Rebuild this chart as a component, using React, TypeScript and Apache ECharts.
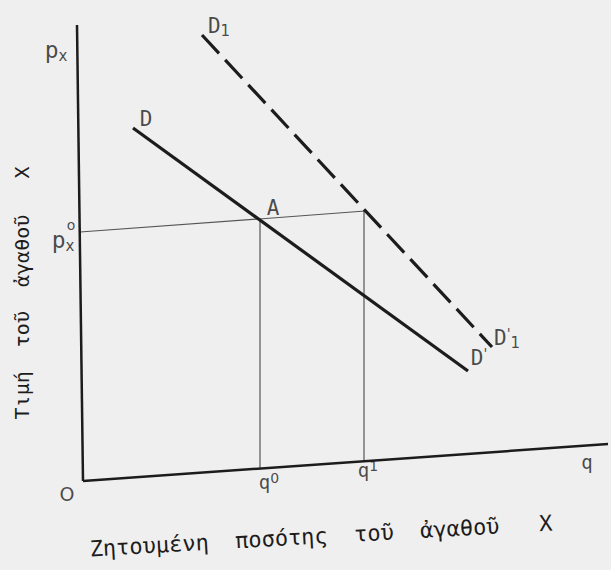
import React, { useEffect, useRef } from "react";
import * as echarts from "echarts";

// Drawing units: origin at O, quantity to the right, price upward.
const xAxisLine: number[][] = [[0, 0], [525, 37]];
const yAxisLine: number[][] = [[0, 0], [-6, 456]];
const demandD: number[][] = [[50, 353], [385, 110]];
const demandD1: number[][] = [[119, 446], [409, 134]];
const priceGuide: number[][] = [[-3, 249], [176, 262], [282, 270]];
const q0Guide: number[][] = [[177, 13], [177, 261]];
const q1Guide: number[][] = [[281, 20], [281, 270]];

// Point labels (rich text) and their anchors.
const labelTexts: string[] = [
  "{b|D}{sub|1}",
  "{b|D}",
  "{b|A}",
  "{b|D}{sup|'}",
  "{b|D}{sup|'}{sub|1}",
  "{p|p}{sub|x}",
  "{p|p}{sub|x}",
  "{sup|o}",
  "{o|O}",
  "{q|q}{sup|0}",
  "{q|q}{sup|1}",
  "{q|q}",
];
const labelAnchors: number[][] = [
  [136, 455],
  [63, 362],
  [190, 273],
  [396, 123],
  [424, 143],
  [-27, 431],
  [-20, 241],
  [-12, 256],
  [-16, -13],
  [186, -1],
  [285, 11],
  [504, 19],
];

const yTitle = "Τιμή  τοῦ  ἀγαθοῦ   X";
const xTitle = "Ζητουμένη  ποσότης  τοῦ  ἀγαθοῦ   X";

const INK = "#1c1c1c";
const FONT = "DejaVu Sans Mono";
const SMALL_FONT = "DejaVu Sans";

function lineSeries(data: number[][], width: number, color: string, type: any = "solid") {
  return {
    type: "line",
    data,
    symbol: "none",
    silent: true,
    lineStyle: { width, color, type, cap: "butt" },
  };
}

export default function App() {
  const ref = useRef<HTMLDivElement>(null);

  useEffect(() => {
    if (!ref.current) return;
    const chart = echarts.init(ref.current, null, { renderer: "svg" });
    chart.setOption({
      animation: false,
      backgroundColor: "#efefef",
      grid: { left: 0, right: 0, top: 0, bottom: 0 },
      xAxis: { type: "value", min: -83, max: 528, show: false },
      yAxis: { type: "value", min: -89, max: 481, show: false },
      series: [
        lineSeries(priceGuide, 1.2, "#555"),
        lineSeries(q0Guide, 1.2, "#555"),
        lineSeries(q1Guide, 1.2, "#555"),
        lineSeries(xAxisLine, 2.5, INK),
        lineSeries(yAxisLine, 2.5, INK),
        lineSeries(demandD, 3.2, INK),
        lineSeries(demandD1, 3.2, INK, [25, 9]),
        {
          type: "scatter",
          silent: true,
          symbolSize: 1,
          itemStyle: { color: "rgba(0,0,0,0)" },
          data: labelAnchors.map((p, i) => ({ value: p, name: labelTexts[i] })),
          label: {
            show: true,
            position: "inside",
            formatter: (p: any) => p.name,
            color: INK,
            fontFamily: FONT,
            rich: {
              b: { fontSize: 21, fontFamily: FONT, color: INK, lineHeight: 24 },
              o: { fontSize: 19, fontFamily: SMALL_FONT, color: INK, lineHeight: 24 },
              p: { fontSize: 23, fontFamily: FONT, color: INK, lineHeight: 26 },
              q: { fontSize: 19, fontFamily: FONT, color: INK, lineHeight: 22 },
              sub: { fontSize: 15, fontFamily: SMALL_FONT, color: INK, verticalAlign: "bottom" },
              sup: { fontSize: 14, fontFamily: SMALL_FONT, color: INK, verticalAlign: "top" },
            },
          },
        },
      ],
      graphic: [
        {
          type: "text",
          x: 22,
          y: 293,
          rotation: Math.PI / 2,
          style: {
            text: yTitle,
            font: `20px "${FONT}"`,
            fill: INK,
            align: "center",
            verticalAlign: "middle",
          },
        },
        {
          type: "text",
          x: 321,
          y: 536,
          rotation: 0.056,
          style: {
            text: xTitle,
            font: `22px "${FONT}"`,
            fill: INK,
            align: "center",
            verticalAlign: "middle",
          },
        },
      ],
    });
    return () => chart.dispose();
  }, []);

  return (
    <div
      ref={ref}
      style={{ position: "fixed", left: 0, top: 0, width: 611, height: 570 }}
    />
  );
}
